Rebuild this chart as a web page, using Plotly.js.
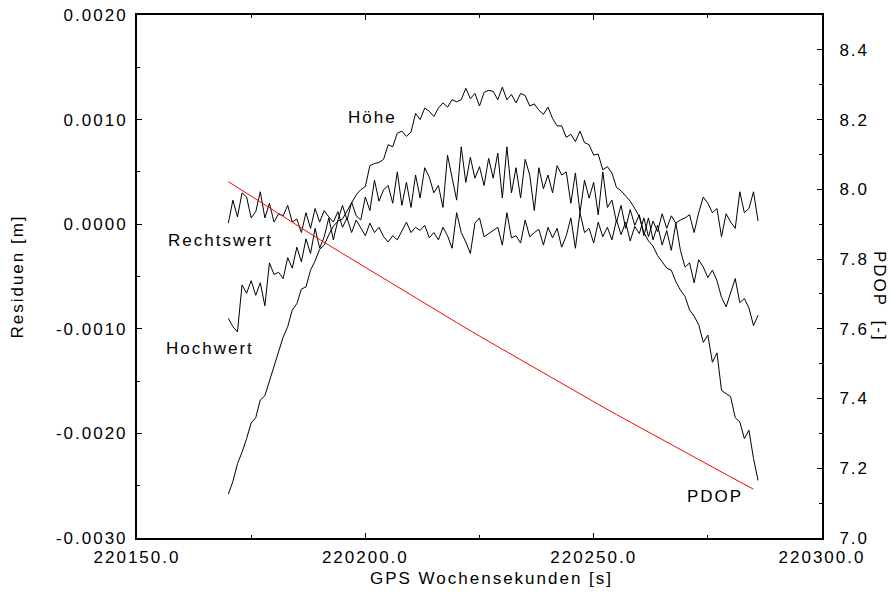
<!DOCTYPE html>
<html>
<head>
<meta charset="utf-8">
<script src="https://cdn.plot.ly/plotly-3.0.1.min.js"></script>
<style>
html, body { margin: 0; padding: 0; background: #ffffff; }
#chart { width: 892px; height: 592px; }
#chart svg text { letter-spacing: 2px; }
#chart .xtitle { transform: translate(12px, 0px); }
</style>
</head>
<body>
<div id="chart"></div>
<script>
// GPS week seconds of the residual epochs
const epochs = [
  220170, 220171, 220172, 220173, 220174, 220175, 220176, 220177, 220178, 220179,
  220180, 220181, 220182, 220183, 220184, 220185, 220186, 220187, 220188, 220189,
  220190, 220191, 220192, 220193, 220194, 220195, 220196, 220197, 220198, 220199,
  220200, 220201, 220202, 220203, 220204, 220205, 220206, 220207, 220208, 220209,
  220210, 220211, 220212, 220213, 220214, 220215, 220216, 220217, 220218, 220219,
  220220, 220221, 220222, 220223, 220224, 220225, 220226, 220227, 220228, 220229,
  220230, 220231, 220232, 220233, 220234, 220235, 220236, 220237, 220238, 220239,
  220240, 220241, 220242, 220243, 220244, 220245, 220246, 220247, 220248, 220249,
  220250, 220251, 220252, 220253, 220254, 220255, 220256, 220257, 220258, 220259,
  220260, 220261, 220262, 220263, 220264, 220265, 220266, 220267, 220268, 220269,
  220270, 220271, 220272, 220273, 220274, 220275, 220276, 220277, 220278, 220279,
  220280, 220281, 220282, 220283, 220284, 220285, 220286
];

// Residuen [m] – Höhe
const hoehe = [
  -0.00258, -0.00246, -0.00229, -0.00218, -0.00205, -0.00190, -0.00185, -0.00168, -0.00164, -0.00150,
  -0.00134, -0.00120, -0.00108, -0.00098, -0.00082, -0.00076, -0.00062, -0.00060, -0.00044, -0.00035,
  -0.00024, -0.00020, -0.00010, -0.00002, 0.00003, 0.00005, 0.00013, 0.00020, 0.00028, 0.00033,
  0.00036, 0.00056, 0.00058, 0.00059, 0.00062, 0.00076, 0.00074, 0.00087, 0.00089, 0.00084,
  0.00088, 0.00106, 0.00100, 0.00111, 0.00108, 0.00103, 0.00111, 0.00116, 0.00112, 0.00119,
  0.00117, 0.00119, 0.00130, 0.00120, 0.00125, 0.00113, 0.00126, 0.00128, 0.00127, 0.00119,
  0.00131, 0.00119, 0.00124, 0.00116, 0.00125, 0.00123, 0.00113, 0.00115, 0.00109, 0.00105,
  0.00112, 0.00101, 0.00094, 0.00094, 0.00083, 0.00086, 0.00079, 0.00089, 0.00078, 0.00076,
  0.00066, 0.00067, 0.00052, 0.00055, 0.00049, 0.00035, 0.00032, 0.00027, 0.00022, 0.00015,
  0.00007, -0.00008, -0.00016, -0.00021, -0.00030, -0.00036, -0.00042, -0.00044, -0.00055, -0.00063,
  -0.00069, -0.00082, -0.00088, -0.00096, -0.00113, -0.00106, -0.00132, -0.00123, -0.00159, -0.00162,
  -0.00165, -0.00185, -0.00189, -0.00205, -0.00197, -0.00224, -0.00245
];

// Residuen [m] – Hochwert
const hochwert = [
  -0.00090, -0.00098, -0.00103, -0.00058, -0.00066, -0.00054, -0.00068, -0.00056, -0.00078, -0.00037,
  -0.00048, -0.00046, -0.00052, -0.00032, -0.00042, -0.00022, -0.00036, -0.00014, -0.00028, -0.00004,
  -0.00023, -0.00012, 0.00006, -0.00015, 0.00004, 0.00018, 0.00004, 0.00021, 0.00008, 0.00004,
  0.00026, 0.00013, 0.00042, 0.00022, 0.00033, 0.00037, 0.00020, 0.00050, 0.00018, 0.00040,
  0.00016, 0.00047, 0.00025, 0.00054, 0.00045, 0.00030, 0.00037, 0.00016, 0.00066, 0.00045,
  0.00023, 0.00074, 0.00040, 0.00064, 0.00044, 0.00055, 0.00037, 0.00063, 0.00044, 0.00068,
  0.00025, 0.00074, 0.00030, 0.00054, 0.00025, 0.00062, 0.00047, 0.00013, 0.00054, 0.00034,
  0.00047, 0.00030, 0.00056, 0.00047, 0.00050, 0.00020, 0.00049, 0.00011, 0.00042, 0.00025,
  0.00040, 0.00009, 0.00050, 0.00016, 0.00023, 0.00002, 0.00018, -0.00004, 0.00014, -0.00001,
  0.00009, -0.00011, 0.00006, -0.00015, -0.00001, -0.00020, -0.00006, -0.00025, 0.00001, -0.00025,
  -0.00041, -0.00037, -0.00056, -0.00034, -0.00041, -0.00051, -0.00044, -0.00054, -0.00070, -0.00079,
  -0.00066, -0.00052, -0.00075, -0.00071, -0.00080, -0.00097, -0.00087
];

// Residuen [m] – Rechtswert
const rechtswert = [
  0.00001, 0.00023, 0.00007, 0.00030, 0.00026, 0.00006, 0.00012, 0.00031, 0.00006, 0.00020,
  0.00002, 0.00010, 0.00008, 0.00018, 0.00002, 0.00005, -0.00008, 0.00011, -0.00004, 0.00015,
  0.00002, 0.00013, 0.00007, 0.00002, 0.00012, -0.00003, 0.00006, -0.00008, 0.00004, -0.00003,
  -0.00011, 0.00001, -0.00008, -0.00003, -0.00012, -0.00017, -0.00011, -0.00015, -0.00006, 0.00002,
  -0.00008, -0.00003, -0.00006, -0.00001, -0.00013, -0.00008, -0.00015, -0.00003, -0.00011, -0.00023,
  0.00011, -0.00008, -0.00017, -0.00028, 0.00001, 0.00006, -0.00012, -0.00009, -0.00006, -0.00003,
  -0.00020, 0.00011, -0.00013, -0.00011, -0.00018, 0.00004, -0.00012, -0.00008, -0.00005, -0.00020,
  -0.00003, -0.00013, -0.00004, -0.00022, -0.00011, 0.00006, -0.00023, 0.00011, -0.00008, -0.00004,
  -0.00018, 0.00002, -0.00012, -0.00003, -0.00015, 0.00004, -0.00010, 0.00002, -0.00016, -0.00002,
  -0.00009, 0.00006, -0.00012, 0.00003, -0.00007, 0.00010, -0.00004, 0.00008, 0.00001, 0.00004,
  0.00006, 0.00009, -0.00008, 0.00011, 0.00026, 0.00020, 0.00011, 0.00015, -0.00012, 0.00010,
  0.00002, -0.00004, 0.00031, 0.00011, 0.00015, 0.00031, 0.00003
];

// PDOP [-]
const pdopEpochs = [
  220170, 220175, 220180, 220185, 220190, 220195, 220200, 220205, 220210, 220215, 220220, 220225,
  220230, 220235, 220240, 220245, 220250, 220255, 220260, 220265, 220270, 220275, 220280, 220285
];
const pdop = [
  8.022, 7.980, 7.938, 7.897, 7.856, 7.816, 7.776, 7.736, 7.696, 7.657, 7.618, 7.579,
  7.541, 7.503, 7.465, 7.428, 7.391, 7.354, 7.318, 7.281, 7.245, 7.210, 7.175, 7.140
];

// Tick labels of the residual axis
const resTickVals = [-0.003, -0.002, -0.001, 0.0, 0.001, 0.002];
const resTickText = ['-0.0030', '-0.0020', '-0.0010', '0.0000', '0.0010', '0.0020'];
const resMinorVals = [-0.0025, -0.0015, -0.0005, 0.0005, 0.0015];

const FONT = '"Liberation Sans", Arial, Helvetica, sans-serif';

const blackLine = { color: '#000000', width: 1 };

const traces = [
  { x: epochs, y: rechtswert, type: 'scatter', mode: 'lines', name: 'Rechtswert', line: blackLine, yaxis: 'y' },
  { x: epochs, y: hochwert, type: 'scatter', mode: 'lines', name: 'Hochwert', line: blackLine, yaxis: 'y' },
  { x: epochs, y: hoehe, type: 'scatter', mode: 'lines', name: 'Höhe', line: blackLine, yaxis: 'y' },
  { x: pdopEpochs, y: pdop, type: 'scatter', mode: 'lines', name: 'PDOP', line: { color: '#ff0000', width: 1 }, yaxis: 'y2' }
];

const axisCommon = {
  showline: true, linewidth: 2, linecolor: '#000000',
  ticks: 'inside', ticklen: 5, tickwidth: 1, tickcolor: '#000000',
  showgrid: false, zeroline: false,
  tickfont: { family: FONT, size: 17, color: '#000000' }
};

const layout = {
  width: 892, height: 592,
  margin: { l: 137, r: 70, t: 15, b: 54 },
  paper_bgcolor: '#ffffff', plot_bgcolor: '#ffffff',
  showlegend: false,
  font: { family: FONT, size: 17, color: '#000000' },
  xaxis: Object.assign({}, axisCommon, {
    range: [220150, 220300],
    tickmode: 'linear', tick0: 220150, dtick: 50, tickformat: '.1f',
    mirror: 'ticks',
    ticklabelstandoff: 3,
    minor: { tick0: 220150, dtick: 25, ticks: 'inside', ticklen: 3, tickcolor: '#000000', showgrid: false },
    title: { text: 'GPS Wochensekunden [s]', font: { family: FONT, size: 17, color: '#000000' }, standoff: 6 }
  }),
  yaxis: Object.assign({}, axisCommon, {
    range: [-0.003, 0.002],
    tickmode: 'array', tickvals: resTickVals, ticktext: resTickText,
    ticklabelstandoff: 4,
    minor: { tickmode: 'array', tickvals: resMinorVals, ticks: 'inside', ticklen: 3, tickcolor: '#000000', showgrid: false },
    title: { text: 'Residuen [m]', font: { family: FONT, size: 17, color: '#000000' }, standoff: 42 }
  }),
  yaxis2: Object.assign({}, axisCommon, {
    overlaying: 'y', side: 'right',
    range: [7.0, 8.5],
    tickmode: 'linear', tick0: 7.0, dtick: 0.2, tickformat: '.1f',
    ticklabelstandoff: 12,
    minor: { tick0: 7.0, dtick: 0.1, ticks: 'inside', ticklen: 3, tickcolor: '#000000', showgrid: false }
  }),
  annotations: [
    { text: 'Höhe', xref: 'x', yref: 'y', x: 220201.5, y: 0.00102, showarrow: false, font: { family: FONT, size: 17, color: '#000000' } },
    { text: 'Rechtswert', xref: 'x', yref: 'y', x: 220168.2, y: -0.000153, showarrow: false, font: { family: FONT, size: 17, color: '#000000' } },
    { text: 'Hochwert', xref: 'x', yref: 'y', x: 220166.0, y: -0.00119, showarrow: false, font: { family: FONT, size: 17, color: '#000000' } },
    { text: 'PDOP', xref: 'x', yref: 'y2', x: 220276.5, y: 7.12, showarrow: false, font: { family: FONT, size: 17, color: '#000000' } },
    { text: 'PDOP\u00A0\u00A0[-]', xref: 'paper', yref: 'paper', x: 1.0847, y: 0.4627, xanchor: 'center', yanchor: 'middle', textangle: 90, showarrow: false, font: { family: FONT, size: 17, color: '#000000' } }
  ]
};

Plotly.newPlot('chart', traces, layout, { staticPlot: true, displayModeBar: false });
</script>
</body>
</html>
